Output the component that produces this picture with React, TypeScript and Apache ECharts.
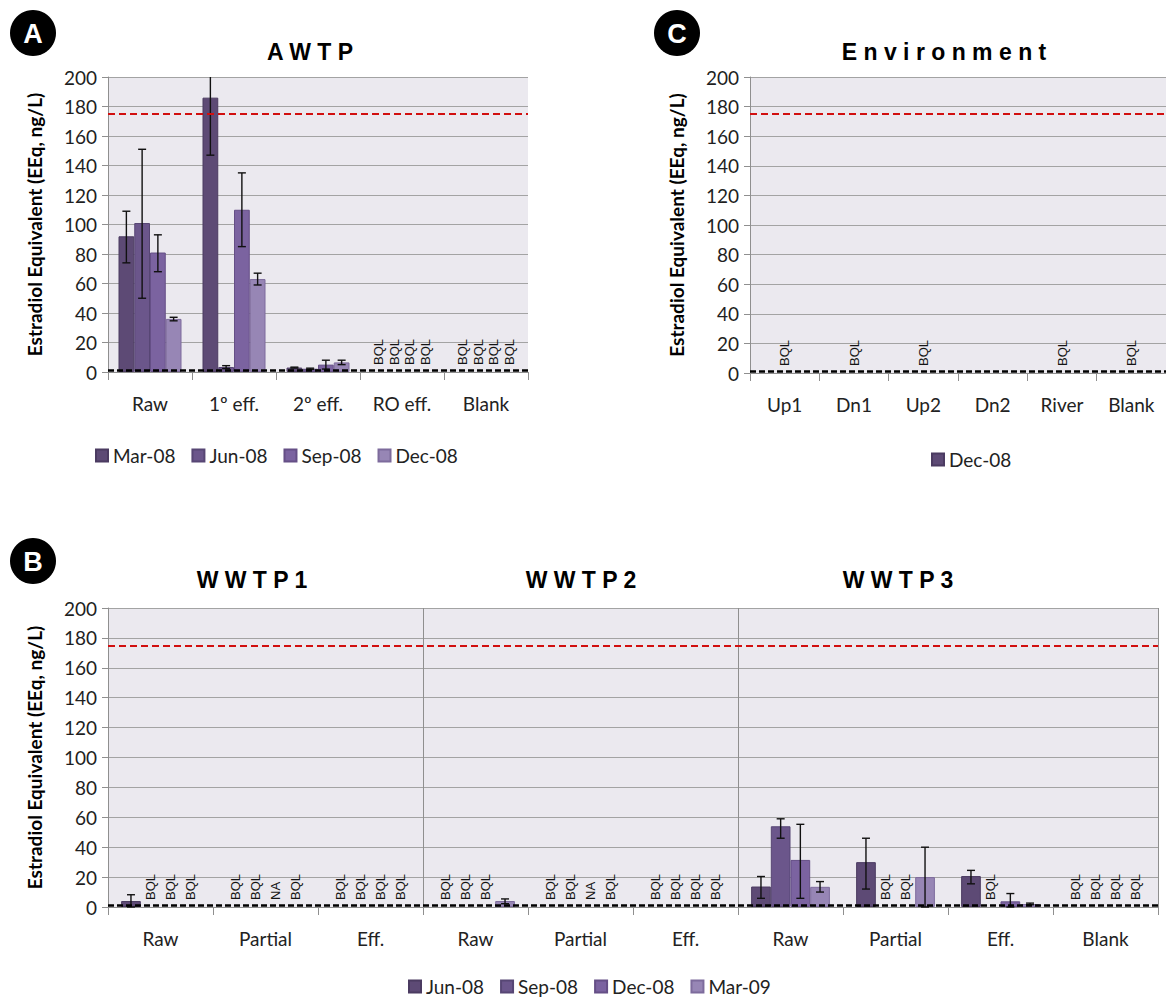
import React, { useEffect, useRef } from "react";
import * as echarts from "echarts";

// ---------- Panel A (AWTP) ----------
const awtpCategories = ["Raw", "1º eff.", "2º eff.", "RO eff.", "Blank"];
const awtpSeries = ["Mar-08", "Jun-08", "Sep-08", "Dec-08"];
const awtpMar08 = [92, 186, 3, null, null];
const awtpJun08 = [101, 3.4, 2.2, null, null];
const awtpSep08 = [81, 110, 5, null, null];
const awtpDec08 = [36, 63, 6.5, null, null];
const awtpMar08Low = [74, 147, 2.7, null, null];
const awtpMar08High = [109, 226, 3.3, null, null];
const awtpJun08Low = [50, 2.3, 1.8, null, null];
const awtpJun08High = [151, 4.3, 2.6, null, null];
const awtpSep08Low = [68, 85, 2, null, null];
const awtpSep08High = [93, 135, 8, null, null];
const awtpDec08Low = [34.7, 59, 5, null, null];
const awtpDec08High = [37.1, 67, 8, null, null];
const awtpMar08Labels = ["", "", "", "BQL", "BQL"];
const awtpJun08Labels = ["", "", "", "BQL", "BQL"];
const awtpSep08Labels = ["", "", "", "BQL", "BQL"];
const awtpDec08Labels = ["", "", "", "BQL", "BQL"];

// ---------- Panel C (Environment) ----------
const envCategories = ["Up1", "Dn1", "Up2", "Dn2", "River", "Blank"];
const envSeries = ["Dec-08"];
const envDec08 = [null, null, null, null, null, null];
const envDec08Low = [null, null, null, null, null, null];
const envDec08High = [null, null, null, null, null, null];
const envDec08Labels = ["BQL", "BQL", "BQL", "", "BQL", "BQL"];

// ---------- Panel B (WWTP1-3) ----------
const wwtpCategories = ["Raw", "Partial", "Eff.", "Raw", "Partial", "Eff.", "Raw", "Partial", "Eff.", "Blank"];
const wwtpTitles = ["W W T P 1", "W W T P 2", "W W T P 3"];
const wwtpSeries = ["Jun-08", "Sep-08", "Dec-08", "Mar-09"];
const wwtpJun08 = [4, null, null, null, null, null, 13.7, 30, 20.7, null];
const wwtpSep08 = [null, null, null, null, null, null, 54, null, null, null];
const wwtpDec08 = [null, null, null, null, null, null, 31.5, null, 3.8, null];
const wwtpMar09 = [null, null, null, 4, null, null, 13.5, 20, 2, null];
const wwtpJun08Low = [0, null, null, null, null, null, 5.8, 12, 15.5, null];
const wwtpJun08High = [8.2, null, null, null, null, null, 20.4, 46, 24.5, null];
const wwtpSep08Low = [null, null, null, null, null, null, 46, null, null, null];
const wwtpSep08High = [null, null, null, null, null, null, 59, null, null, null];
const wwtpDec08Low = [null, null, null, null, null, null, 5.8, null, 0, null];
const wwtpDec08High = [null, null, null, null, null, null, 55.3, null, 9, null];
const wwtpMar09Low = [null, null, null, 2.2, null, null, 10, 0, 1.5, null];
const wwtpMar09High = [null, null, null, 5.4, null, null, 17, 40, 2.6, null];
const wwtpJun08Labels = ["", "BQL", "BQL", "BQL", "BQL", "BQL", "", "", "", "BQL"];
const wwtpSep08Labels = ["BQL", "BQL", "BQL", "BQL", "BQL", "BQL", "", "BQL", "BQL", "BQL"];
const wwtpDec08Labels = ["BQL", "NA", "BQL", "BQL", "NA", "BQL", "", "BQL", "", "BQL"];
const wwtpMar09Labels = ["BQL", "BQL", "BQL", "", "BQL", "BQL", "", "", "", "BQL"];

// ---------- shared ----------
const yTicks = { min: 0, max: 200, interval: 20 };
const referenceLines = [175, 1];
const yAxisTitle = "Estradiol Equivalent (EEq, ng/L)";

const COLORS = ["#5d4a75", "#6b568b", "#7b63a0", "#9786b5"];
const BORDERS = ["#4b3b61", "#574674", "#654f86", "#7d6b9c"];
const FONT = 'Lato, "Noto Sans", sans-serif';
const NARROW = '"Liberation Sans Narrow", "Liberation Sans", Arial, sans-serif';
const GAP = 0.25;

type Panel = {
  categories: string[];
  names: string[];
  colors: string[];
  borders: string[];
  values: (number | null)[][];
  lows: (number | null)[][];
  highs: (number | null)[][];
  labels: string[][];
  grid: { left: number; top: number; width: number; height: number };
  legend: { left: number; top: number };
  graphics: any[];
  splitAt?: number[];
};

function buildOption(p: Panel) {
  const n = p.names.length;
  const slotX = (api: any, cat: number, si: number) => {
    const band = api.size([1, 0])[0];
    const groupW = band * (1 - GAP);
    const barW = groupW / n;
    const base = api.coord([cat, 0]);
    return { x: base[0] - groupW / 2 + barW * (si + 0.5), y0: base[1], barW };
  };

  const errItems: number[][] = [];
  const labelItems: { cat: number; si: number; text: string }[] = [];
  p.names.forEach((_, si) => {
    p.categories.forEach((_c, ci) => {
      const lo = p.lows[si][ci];
      const hi = p.highs[si][ci];
      if (lo != null && hi != null) errItems.push([ci, lo, hi, si]);
      const t = p.labels[si][ci];
      if (t) labelItems.push({ cat: ci, si, text: t });
    });
  });

  const bars = p.names.map((name, i) => ({
    type: "bar",
    name,
    data: p.values[i],
    barGap: "0%",
    barCategoryGap: GAP * 100 + "%",
    itemStyle: { color: p.colors[i], borderColor: p.borders[i], borderWidth: 1 },
    silent: true,
    z: 2,
    markLine:
      i === 0
        ? {
            symbol: ["none", "none"],
            silent: true,
            label: { show: false },
            z: 6,
            data: [
              { yAxis: referenceLines[0], lineStyle: { color: "#d10f0f", type: [7, 4], width: 2 } },
              { yAxis: referenceLines[1], lineStyle: { color: "#000000", type: [6, 3], width: 2.5 } },
            ],
          }
        : undefined,
  }));

  const errSeries = {
    type: "custom",
    silent: true,
    z: 5,
    data: errItems,
    encode: { x: 0, y: [1, 2] },
    renderItem: (_params: any, api: any) => {
      const cat = api.value(0);
      const lo = api.value(1);
      const hi = api.value(2);
      const si = api.value(3);
      const s = slotX(api, cat, si);
      const clipped = hi > yTicks.max;
      const yHi = api.coord([cat, Math.min(hi, yTicks.max)])[1];
      const yLo = api.coord([cat, Math.max(lo, yTicks.min)])[1];
      const cap = 4;
      const st = { stroke: "#111", lineWidth: 1.4 };
      const children: any[] = [
        { type: "line", shape: { x1: s.x, y1: yHi, x2: s.x, y2: yLo }, style: st },
        { type: "line", shape: { x1: s.x - cap, y1: yLo, x2: s.x + cap, y2: yLo }, style: st },
      ];
      if (!clipped) children.push({ type: "line", shape: { x1: s.x - cap, y1: yHi, x2: s.x + cap, y2: yHi }, style: st });
      return { type: "group", children };
    },
  };

  const labelSeries = {
    type: "custom",
    silent: true,
    z: 4,
    data: labelItems.map((l) => [l.cat, 0, l.si]),
    encode: { x: 0, y: 1 },
    renderItem: (params: any, api: any) => {
      const item = labelItems[params.dataIndex];
      const s = slotX(api, item.cat, item.si);
      return {
        type: "text",
        x: s.x,
        y: s.y0 - 7,
        rotation: Math.PI / 2,
        style: {
          text: item.text,
          fill: "#141414",
          fontSize: 13,
          fontFamily: '"Liberation Sans", Arial, sans-serif',
          align: "left",
          verticalAlign: "middle",
          textAlign: "left",
          textVerticalAlign: "middle",
        },
      };
    },
  };

  return {
    animation: false,
    backgroundColor: "#ffffff",
    grid: {
      ...p.grid,
      show: true,
      backgroundColor: "#ebe9ef",
      borderWidth: 0,
      containLabel: false,
    },
    legend: {
      data: p.names,
      left: p.legend.left,
      top: p.legend.top,
      icon: "rect",
      itemWidth: 12,
      itemHeight: 12,
      itemGap: 16,
      selectedMode: false,
      textStyle: { fontSize: 19, color: "#222", fontFamily: FONT },
    },
    xAxis: {
      type: "category",
      data: p.categories,
      axisLine: { show: true, lineStyle: { color: "#8f8f8f", width: 1 } },
      axisTick: { show: true, length: 8, interval: 0, lineStyle: { color: "#8f8f8f" } },
      axisLabel: { interval: 0, margin: 22, fontSize: 19, color: "#222", fontFamily: FONT },
      splitLine: {
        show: !!p.splitAt,
        interval: (i: number) => !!p.splitAt && p.splitAt.indexOf(i) >= 0,
        lineStyle: { color: "#8f8f8f", width: 1 },
      },
    },
    yAxis: {
      type: "value",
      min: yTicks.min,
      max: yTicks.max,
      interval: yTicks.interval,
      name: yAxisTitle,
      nameLocation: "middle",
      nameRotate: 90,
      nameGap: 64,
      nameTextStyle: { fontSize: 19, fontWeight: "bold", color: "#000", fontFamily: FONT },
      axisLine: { show: true, lineStyle: { color: "#8f8f8f", width: 1 } },
      axisTick: { show: true, length: 6, inside: false, lineStyle: { color: "#8f8f8f" } },
      axisLabel: { margin: 11, fontSize: 19, color: "#1f1f1f", fontFamily: FONT },
      splitLine: { show: true, lineStyle: { color: "#a3a3a3", width: 1.2 } },
    },
    graphic: { elements: p.graphics },
    series: [...bars, labelSeries, errSeries],
  };
}

function badge(cx: number, cy: number, letter: string) {
  return [
    { type: "circle", shape: { cx, cy, r: 23 }, style: { fill: "#000" }, z: 10 },
    {
      type: "text",
      x: cx,
      y: cy + 1,
      z: 11,
      style: {
        text: letter,
        fill: "#fff",
        font: "bold 27px " + NARROW,
        textAlign: "center",
        textVerticalAlign: "middle",
        align: "center",
        verticalAlign: "middle",
      },
    },
  ];
}

function title(x: number, y: number, text: string) {
  return {
    type: "text",
    x,
    y,
    z: 10,
    style: {
      text,
      fill: "#000",
      font: "bold 23px " + NARROW,
      textAlign: "center",
      textVerticalAlign: "middle",
      align: "center",
      verticalAlign: "middle",
    },
  };
}

const panelA: Panel = {
  categories: awtpCategories,
  names: awtpSeries,
  colors: COLORS,
  borders: BORDERS,
  values: [awtpMar08, awtpJun08, awtpSep08, awtpDec08],
  lows: [awtpMar08Low, awtpJun08Low, awtpSep08Low, awtpDec08Low],
  highs: [awtpMar08High, awtpJun08High, awtpSep08High, awtpDec08High],
  labels: [awtpMar08Labels, awtpJun08Labels, awtpSep08Labels, awtpDec08Labels],
  grid: { left: 108, top: 77, width: 420, height: 295 },
  legend: { left: 90, top: 441 },
  graphics: [...badge(33, 33, "A"), title(310, 52, "A W T P")],
};

const panelC: Panel = {
  categories: envCategories,
  names: envSeries,
  colors: [COLORS[0]],
  borders: [BORDERS[0]],
  values: [envDec08],
  lows: [envDec08Low],
  highs: [envDec08High],
  labels: [envDec08Labels],
  grid: { left: 190, top: 77, width: 417, height: 296 },
  legend: { left: 366, top: 445 },
  graphics: [...badge(117, 33, "C"), title(384, 52, "E n v i r o n m e n t")],
};

const panelB: Panel = {
  categories: wwtpCategories,
  names: wwtpSeries,
  colors: COLORS,
  borders: BORDERS,
  values: [wwtpJun08, wwtpSep08, wwtpDec08, wwtpMar09],
  lows: [wwtpJun08Low, wwtpSep08Low, wwtpDec08Low, wwtpMar09Low],
  highs: [wwtpJun08High, wwtpSep08High, wwtpDec08High, wwtpMar09High],
  labels: [wwtpJun08Labels, wwtpSep08Labels, wwtpDec08Labels, wwtpMar09Labels],
  grid: { left: 108, top: 128, width: 1050, height: 299 },
  legend: { left: 403, top: 492 },
  graphics: [
    ...badge(33, 81, "B"),
    title(252, 100, wwtpTitles[0]),
    title(581, 100, wwtpTitles[1]),
    title(898, 100, wwtpTitles[2]),
  ],
  splitAt: [3, 6],
};

export default function App() {
  const refA = useRef<HTMLDivElement>(null);
  const refB = useRef<HTMLDivElement>(null);
  const refC = useRef<HTMLDivElement>(null);

  useEffect(() => {
    const charts: any[] = [];
    const pairs: [HTMLDivElement | null, Panel][] = [
      [refA.current, panelA],
      [refC.current, panelC],
      [refB.current, panelB],
    ];
    pairs.forEach(([el, p]) => {
      if (!el) return;
      const c = echarts.init(el, null, { renderer: "svg" });
      c.setOption(buildOption(p) as any);
      charts.push(c);
    });
    return () => charts.forEach((c) => c.dispose());
  }, []);

  return (
    <div style={{ position: "absolute", left: 0, top: 0, width: 1166, height: 999, background: "#fff", overflow: "hidden" }}>
      <div ref={refA} style={{ position: "absolute", left: 0, top: 0, width: 560, height: 480 }} />
      <div ref={refC} style={{ position: "absolute", left: 560, top: 0, width: 606, height: 480 }} />
      <div ref={refB} style={{ position: "absolute", left: 0, top: 480, width: 1166, height: 519 }} />
    </div>
  );
}
